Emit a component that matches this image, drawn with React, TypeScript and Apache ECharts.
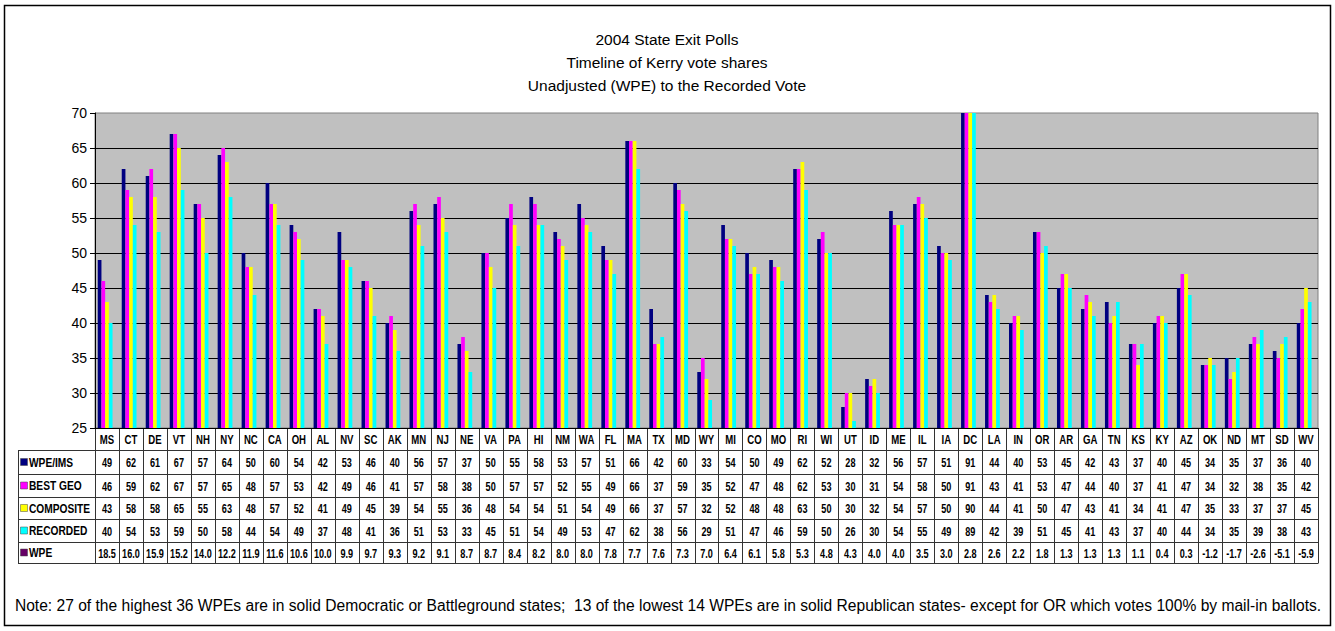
import React, { useEffect, useRef } from "react";
import * as echarts from "echarts";

const states = ["MS","CT","DE","VT","NH","NY","NC","CA","OH","AL","NV","SC","AK","MN","NJ","NE","VA","PA","HI","NM","WA","FL","MA","TX","MD","WY","MI","CO","MO","RI","WI","UT","ID","ME","IL","IA","DC","LA","IN","OR","AR","GA","TN","KS","KY","AZ","OK","ND","MT","SD","WV"];
const wpeIms = [49,62,61,67,57,64,50,60,54,42,53,46,40,56,57,37,50,55,58,53,57,51,66,42,60,33,54,50,49,62,52,28,32,56,57,51,91,44,40,53,45,42,43,37,40,45,34,35,37,36,40];
const bestGeo = [46,59,62,67,57,65,48,57,53,42,49,46,41,57,58,38,50,57,57,52,55,49,66,37,59,35,52,47,48,62,53,30,31,54,58,50,91,43,41,53,47,44,40,37,41,47,34,32,38,35,42];
const composite = [43,58,58,65,55,63,48,57,52,41,49,45,39,54,55,36,48,54,54,51,54,49,66,37,57,32,52,48,48,63,50,30,32,54,57,50,90,44,41,50,47,43,41,34,41,47,35,33,37,37,45];
const recorded = [40,54,53,59,50,58,44,54,49,37,48,41,36,51,53,33,45,51,54,49,53,47,62,38,56,29,51,47,46,59,50,26,30,54,55,49,89,42,39,51,45,41,43,37,40,44,34,35,39,38,43];
const wpe = [18.5,16.0,15.9,15.2,14.0,12.2,11.9,11.6,10.6,10.0,9.9,9.7,9.3,9.2,9.1,8.7,8.7,8.4,8.2,8.0,8.0,7.8,7.7,7.6,7.3,7.0,6.4,6.1,5.8,5.3,4.8,4.3,4.0,4.0,3.5,3.0,2.8,2.6,2.2,1.8,1.3,1.3,1.3,1.1,0.4,0.3,-1.2,-1.7,-2.6,-5.1,-5.9];
const seriesNames = ["WPE/IMS", "BEST GEO", "COMPOSITE", "RECORDED", "WPE"];
const seriesColors = ["#000080", "#FF00FF", "#FFFF00", "#00FFFF", "#660066"];
const titleLines = ["2004 State Exit Polls", "Timeline of Kerry vote shares", "Unadjusted (WPE) to the Recorded Vote"];
const noteText = "Note: 27 of the highest 36 WPEs are in solid Democratic or Battleground states;  13 of the lowest 14 WPEs are in solid Republican states- except for OR which votes 100% by mail-in ballots.";

const W = 1335;
const H = 631;
const GL = 95;
const GT = 113;
const GR = 1318;
const GB = 428;
const FONT = '"Liberation Sans", Arial, Helvetica, sans-serif';

export default function App() {
  const ref = useRef<HTMLDivElement>(null);
  useEffect(() => {
    document.body.style.margin = "0";
    const chart = echarts.init(ref.current!, null, { renderer: "svg", width: W, height: H });
    const rows = [wpeIms, bestGeo, composite, recorded, wpe];
    const n = states.length;
    const cw = (GR - GL) / n;
    const rowLines = [450, 474, 497, 519, 542, 563];
    const g: any[] = [];
    g.push({ type: "rect", silent: true, shape: { x: 4.5, y: 5.5, width: 1326, height: 620 }, style: { fill: "none", stroke: "#000", lineWidth: 1.5 } });
    titleLines.forEach((t, i) => {
      g.push({ type: "text", x: 667, y: 39 + i * 23, style: { text: t, fontSize: 15.5, fontFamily: FONT, fill: "#000", align: "center", verticalAlign: "middle" } });
    });
    const ls = { stroke: "#333", lineWidth: 1 };
    rowLines.forEach((y) => {
      g.push({ type: "line", silent: true, shape: { x1: 18, y1: y + 0.5, x2: GR, y2: y + 0.5 }, style: ls });
    });
    for (let i = 0; i <= n; i++) {
      const x = Math.round(GL + i * cw) + 0.5;
      g.push({ type: "line", silent: true, shape: { x1: x, y1: GB, x2: x, y2: 563.5 }, style: ls });
    }
    g.push({ type: "line", silent: true, shape: { x1: 18.5, y1: 450, x2: 18.5, y2: 563.5 }, style: ls });
    states.forEach((s, i) => {
      g.push({ type: "text", x: GL + (i + 0.5) * cw, y: 439.5, scaleX: 0.8, style: { text: s, fontSize: 12, fontWeight: "bold", fontFamily: FONT, fill: "#000", align: "center", verticalAlign: "middle" } });
    });
    rows.forEach((arr, r) => {
      const yc = (rowLines[r] + rowLines[r + 1]) / 2 + 0.5;
      g.push({ type: "rect", silent: true, shape: { x: 20.5, y: yc - 4, width: 7, height: 7 }, style: { fill: seriesColors[r], stroke: "#444", lineWidth: 0.5 } });
      g.push({ type: "text", x: 29, y: yc, scaleX: 0.85, style: { text: seriesNames[r], fontSize: 12, fontWeight: "bold", fontFamily: FONT, fill: "#000", align: "left", verticalAlign: "middle" } });
      arr.forEach((v, i) => {
        const txt = r === 4 ? v.toFixed(1) : String(v);
        g.push({ type: "text", x: GL + (i + 0.5) * cw, y: yc, scaleX: 0.76, style: { text: txt, fontSize: 12, fontWeight: "bold", fontFamily: FONT, fill: "#000", align: "center", verticalAlign: "middle" } });
      });
    });
    g.push({ type: "text", x: 668, y: 605, style: { text: noteText, fontSize: 15.6, fontFamily: FONT, fill: "#000", align: "center", verticalAlign: "middle" } });

    chart.setOption({
      animation: false,
      backgroundColor: "#fff",
      grid: { left: GL, top: GT, width: GR - GL, height: GB - GT, show: true, backgroundColor: "#C0C0C0", borderColor: "#808080", borderWidth: 1 },
      xAxis: {
        type: "category",
        data: states,
        axisLabel: { show: false },
        axisTick: { show: false },
        axisLine: { show: true, lineStyle: { color: "#000", width: 1 } },
        splitLine: { show: false },
      },
      yAxis: {
        type: "value",
        min: 25,
        max: 70,
        interval: 5,
        axisLabel: { fontSize: 14, color: "#000", fontFamily: FONT, margin: 8 },
        axisTick: { show: true, length: 5, lineStyle: { color: "#000" } },
        axisLine: { show: true, lineStyle: { color: "#000", width: 1 } },
        splitLine: { show: true, showMaxLine: false, showMinLine: false, lineStyle: { color: "#000", width: 1 } },
      },
      series: rows.map((arr, r) => ({
        name: seriesNames[r],
        type: "bar",
        data: arr,
        clip: true,
        barGap: "0%",
        barCategoryGap: "23%",
        itemStyle: { color: seriesColors[r] },
        emphasis: { disabled: true },
      })),
      graphic: g,
    });
    return () => chart.dispose();
  }, []);
  return <div ref={ref} style={{ width: W, height: H }} />;
}
